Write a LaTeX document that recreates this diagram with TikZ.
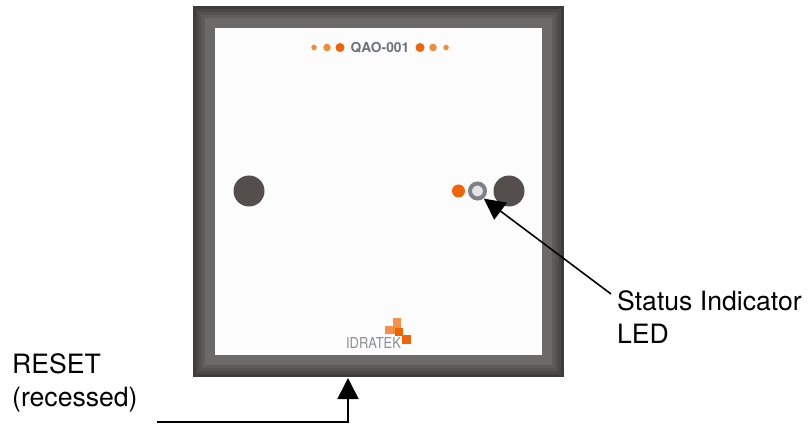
\documentclass[tikz,border=0pt]{standalone}
\usepackage{fontspec}
\setmainfont{TeX Gyre Heros}
\usetikzlibrary{arrows.meta}
\definecolor{bOne}{HTML}{3F3D3B}
\definecolor{bTwo}{HTML}{4A4846}
\definecolor{bThree}{HTML}{555351}
\definecolor{bFour}{HTML}{5E5C5B}
\definecolor{bFive}{HTML}{6B6A69}
\definecolor{faceW}{HTML}{FCFCFC}
\definecolor{knob}{HTML}{544E4C}
\definecolor{ringG}{HTML}{7C8288}
\definecolor{ledW}{HTML}{E4E4E4}
\definecolor{oDark}{HTML}{EF6408}
\definecolor{oMid}{HTML}{F58A2E}
\definecolor{oLight}{HTML}{F4914A}
\definecolor{txtG}{HTML}{6E7277}
\definecolor{logoG}{HTML}{8A8E92}
\tikzset{
  band/.style={fill=#1,draw=none},
  dot/.style={circle,fill=#1,draw=none,inner sep=0pt},
  label/.style={align=left,anchor=west,font=\fontsize{26.6}{33}\selectfont,text=black,inner sep=0pt},
  conn/.style={line width=1.6pt,-{Triangle[length=21pt,width=21pt]},shorten >=1pt},
  sq/.style={fill=#1,draw=none}
}
\begin{document}
\begin{tikzpicture}[x=1pt,y=-1pt]
\useasboundingbox (0,0) rectangle (809,425);
\fill[white] (0,0) rectangle (809,425);
% frame
\fill[band=bOne] (193,6) rectangle (564,377);
\fill[band=bTwo] (196,9) rectangle (561,374);
\fill[band=bThree] (199,12) rectangle (558,371);
\fill[band=bFour] (202,15) rectangle (555,368);
\fill[band=bFive] (205,18) rectangle (552,365);
\fill[band=faceW] (215,28) rectangle (542,355);
% top row
\node[dot=oMid,minimum size=5.5pt] (t1) at (314,47.5) {};
\node[dot=oMid,minimum size=7.5pt] (t2) at (327,47.5) {};
\node[dot=oDark,minimum size=9pt] (t3) at (340,47.5) {};
\node[font=\bfseries\fontsize{13.8}{14}\selectfont,text=txtG,inner sep=0pt] (title) at (380,47.5) {QAO-001};
\node[dot=oDark,minimum size=9pt] (t4) at (420,47.5) {};
\node[dot=oMid,minimum size=7.5pt] (t5) at (433,47.5) {};
\node[dot=oMid,minimum size=5.5pt] (t6) at (446,47.5) {};
% knobs
\node[dot=knob,minimum size=31pt] (k1) at (249,191) {};
\node[dot=knob,minimum size=31pt] (k2) at (509,191) {};
\node[dot=oDark,minimum size=13pt] (led1) at (458.5,191) {};
\node[circle,draw=ringG,line width=4pt,fill=ledW,minimum size=15pt,inner sep=0pt] (led2) at (477.5,191) {};
% logo
\node[font=\fontsize{15}{15}\selectfont,text=logoG,inner sep=0pt,xscale=.86] (logo) at (373.5,343.5) {IDRATEK};
\fill[sq=oLight] (385,326) rectangle (393,334);
\fill[sq=oLight] (393,318) rectangle (401,327);
\fill[sq=oMid] (393,327) rectangle (401,334);
\fill[sq=oDark] (395,328) rectangle (403,336);
\fill[sq=oDark] (402,335) rectangle (411,344);
% labels
\node[label] (status) at (617,317.5) {Status Indicator\\LED};
\node[label] (reset) at (12,383) {RESET\\(recessed)};
% connectors
\coordinate (c1) at (611,294);
\coordinate (c2) at (483,198);
\draw[conn] (c1) -- (c2);
\coordinate (c3) at (157,422);
\coordinate (c4) at (348,422);
\coordinate (c5) at (348,377);
\draw[conn] (c3) -- (c4) -- (c5);
\end{tikzpicture}
\end{document}
